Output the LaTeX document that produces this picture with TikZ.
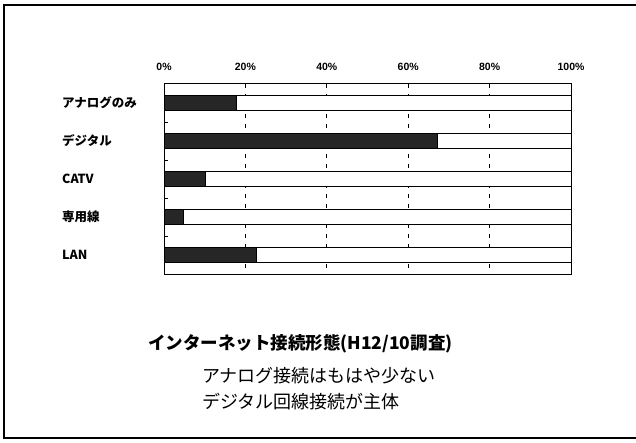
\documentclass[tikz,border=0pt]{standalone}
\usepackage{fontspec}
\newfontfamily\jpfont{Noto Sans CJK JP}
\newfontfamily\axisfont{Liberation Sans}
\usetikzlibrary{positioning}
\begin{document}
\begin{tikzpicture}[x=1pt,y=-1pt,
  catlabel/.style={anchor=west,inner sep=0pt,font=\jpfont\bfseries\fontsize{12.5}{14}\selectfont},
  pctlabel/.style={inner sep=0pt,font=\axisfont\bfseries\fontsize{10.5}{12}\selectfont},
  emptybar/.style={draw=black,fill=white,line width=0.9pt},
  darkbar/.style={draw=black,fill=black!85,line width=0.9pt},
  gridline/.style={line width=0.9pt,dash pattern=on 4pt off 6pt},
  note/.style={anchor=west,inner sep=0pt,font=\jpfont\fontsize{18}{20}\selectfont}]
\useasboundingbox (0,0) rectangle (636,443);
% outer frame (open to the right)
\draw[line width=2pt] (636,5) -- (4,5) -- (4,438) -- (636,438);
% plot area
\draw[line width=1pt] (164,84) rectangle (571,274);
\foreach \p in {20,40,60,80}
  \draw[gridline] ({164+4.07*\p},84) -- ({164+4.07*\p},274);
\foreach \y in {122,160,198,236}
  \draw[line width=0.9pt] (164,\y) -- (168,\y);
\foreach \p in {0,20,...,100}
  \node[pctlabel] (pct\p) at ({164+4.07*\p},67) {\p\%};
% bars
\foreach \name/\lab/\val [count=\i] in {analog/アナログのみ/17.7,digital/デジタル/67.3,
    catv/CATV/10.3,leased/専用線/4.7,lan/LAN/22.6} {
  \pgfmathsetmacro\yc{103+38*(\i-1)}
  \draw[emptybar] (164,\yc-7.5) rectangle (571,\yc+7.5);
  \draw[darkbar] (164,\yc-7.5) rectangle ({164+4.07*\val},\yc+7.5);
  \node[catlabel] (\name) at (62,\yc) {\lab};
}
% captions
\node[anchor=west,inner sep=0pt,font=\jpfont\bfseries\fontsize{17.5}{19}\selectfont] (title) at (148,344) {インターネット接続形態(H12/10調査)};
\node[note] (note1) at (202,376) {アナログ接続はもはや少ない};
\node[note] (note2) at (202,402) {デジタル回線接続が主体};
\end{tikzpicture}
\end{document}
